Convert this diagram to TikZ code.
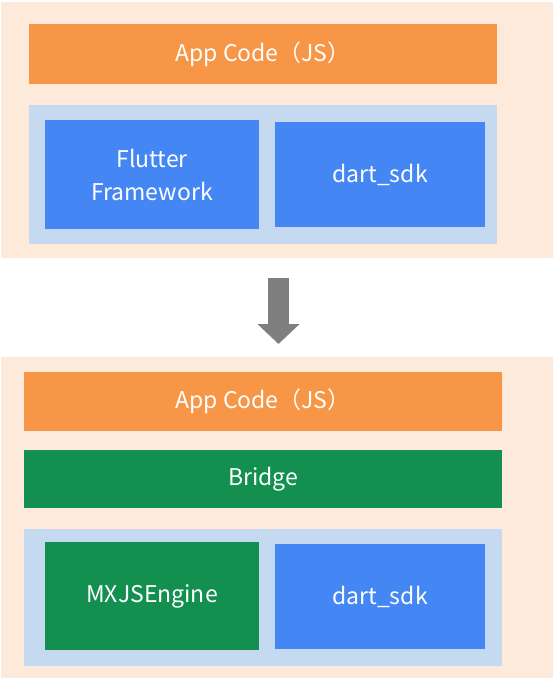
\documentclass[tikz,border=0pt]{standalone}
\usepackage{fontspec}
\setmainfont{Noto Sans CJK SC}
\usepackage{tikz}
\usetikzlibrary{positioning,arrows.meta}
\definecolor{peach}{RGB}{253,234,218}
\definecolor{appOrange}{RGB}{247,150,70}
\definecolor{paleBlue}{RGB}{197,217,240}
\definecolor{flutterBlue}{RGB}{67,134,244}
\definecolor{bridgeGreen}{RGB}{19,143,80}
\definecolor{arrowGray}{RGB}{127,127,127}
\tikzstyle{panel} = [draw=none, fill=peach, inner sep=0pt]
\tikzstyle{bar} = [draw=none, inner sep=0pt, text=white, font=\fontsize{23}{28}\selectfont]
\tikzstyle{box} = [draw=none, inner sep=0pt, text=white, align=center, font=\fontsize{23}{33}\selectfont]
\tikzstyle{bigarrow} = [arrowGray, line width=21pt, -{Triangle[width=41pt,length=20pt]}]

\begin{document}
\begin{tikzpicture}[x=1pt, y=-1pt]
        \useasboundingbox (0,0) rectangle (554,679);
        \node[panel, minimum width=552pt, minimum height=256pt] (top) at (277,130) {};
        \node[bar, fill=appOrange, minimum width=468pt, minimum height=60pt] (app1) at (263,54) {App Code（JS）};
        \node[panel, fill=paleBlue, minimum width=468pt, minimum height=139pt] (lib1) at (263,174.5) {};
        \node[box, fill=flutterBlue, minimum width=214pt, minimum height=109pt] (flutter) at (152,174.5) {Flutter\\Framework};
        \node[box, fill=flutterBlue, minimum width=210pt, minimum height=105pt] (sdk1) at (380,174.5) {dart\_sdk};

        \coordinate (arrowTop) at (278.5,278);
        \coordinate (arrowTip) at (278.5,344);
        \draw[bigarrow] (arrowTop) -- (arrowTip);

        \node[panel, minimum width=552pt, minimum height=321pt] (bottom) at (277,517.5) {};
        \node[bar, fill=appOrange, minimum width=478pt, minimum height=59pt] (app2) at (263,401.5) {App Code（JS）};
        \node[bar, fill=bridgeGreen, minimum width=478pt, minimum height=58pt] (bridge) at (263,479) {Bridge};
        \node[panel, fill=paleBlue, minimum width=478pt, minimum height=137pt] (lib2) at (263,597.5) {};
        \node[box, fill=bridgeGreen, minimum width=214pt, minimum height=108pt] (engine) at (152,596) {MXJSEngine};
        \node[box, fill=flutterBlue, minimum width=210pt, minimum height=105pt] (sdk2) at (380,596.5) {dart\_sdk};
\end{tikzpicture}
\end{document}
